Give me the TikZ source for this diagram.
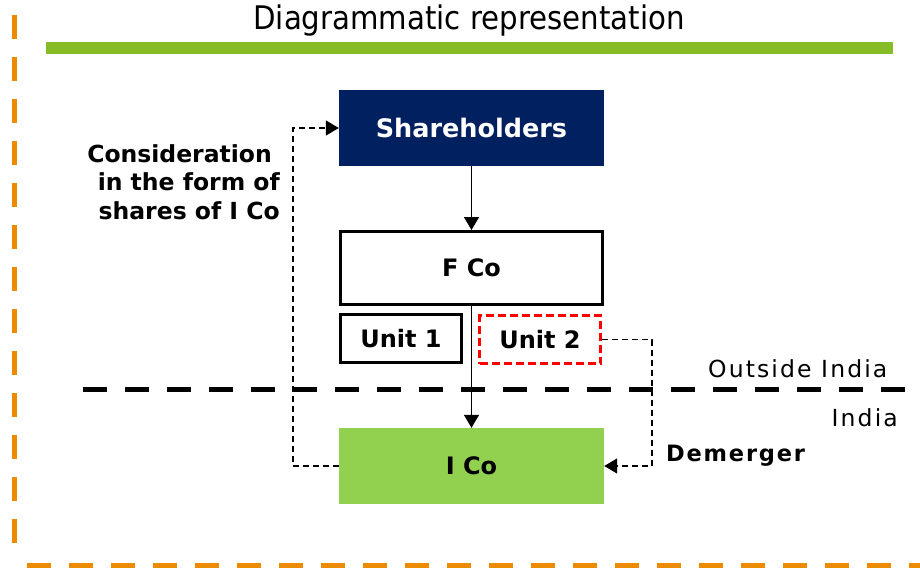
\documentclass[tikz,border=0pt]{standalone}
\usepackage{fontspec}
\setmainfont{DejaVu Sans}
\newfontfamily\titlefont{DejaVu Sans Condensed}
\newfontfamily\spacedfont[LetterSpace=9]{DejaVu Sans}
\newfontfamily\spacedbold[LetterSpace=8]{DejaVu Sans Bold}
\usetikzlibrary{arrows.meta}
\definecolor{navy}{HTML}{002060}
\definecolor{lgreen}{HTML}{92D050}
\definecolor{barg}{HTML}{86BC25}
\definecolor{orng}{HTML}{ED8B00}
\begin{document}
\begin{tikzpicture}[x=1pt,y=-1pt,
  box/.style={minimum width=265pt,minimum height=76pt,inner sep=0pt,
    font=\bfseries\fontsize{24}{28}\selectfont},
  unitbox/.style={minimum width=121pt,minimum height=48pt,inner sep=0pt,
    font=\bfseries\fontsize{24}{28}\selectfont},
  solidarrow/.style={line width=1.6pt,-{Triangle[length=13pt,width=15pt]}},
  dashline/.style={line width=1.5pt,dash pattern=on 6pt off 4pt},
  dasharrow/.style={dashline,-{Triangle[length=13pt,width=15pt]}},
  lbl/.style={inner sep=0pt}
]
\useasboundingbox (0,0) rectangle (920,567);

% title and bar
\node[lbl,anchor=base,font=\titlefont\fontsize{32.5}{36}\selectfont] (title) at (469,30) {Diagrammatic representation};
\fill[barg] (46,42) rectangle (893,54);

% orange dashed border
\draw[orng,line width=5pt,dash pattern=on 24pt off 18pt] (14,15) -- (14,545);
\draw[orng,line width=5pt,dash pattern=on 24pt off 18pt] (27,565) -- (930,565);

% boxes
\node[box,fill=navy,text=white,font=\bfseries\fontsize{25.5}{30}\selectfont] (sh) at (471.5,128) {Shareholders};
\node[box,draw,line width=3pt,minimum width=262pt,minimum height=73pt,fill=white] (fco) at (471.5,268) {F Co};
\node[unitbox,draw,line width=3pt] (u1) at (401,338.5) {Unit 1};
\node[unitbox,draw=red,line width=2.5pt,dash pattern=on 8pt off 4pt] (u2) at (540,339.5) {Unit 2};
\node[box,fill=lgreen] (ico) at (471.5,466) {I Co};

% border line
\draw[line width=5pt,dash pattern=on 24pt off 18pt] (83,389) -- (906,389);

% connectors
\draw[solidarrow] (sh) -- (fco);
\draw[solidarrow] (fco) -- (ico);
\draw[dasharrow] (ico.west) -- ++(-46,0) |- (sh.west);
\draw[dasharrow] (u2.east) -- ++(50,0) |- (ico.east);

% labels
\node[lbl,anchor=base west,font=\spacedfont\fontsize{23.5}{28}\selectfont] (out) at (708,377) {Outside India};
\node[lbl,anchor=base east,font=\spacedfont\fontsize{23.5}{28}\selectfont] (ind) at (898,426) {India};
\node[lbl,anchor=base west,font=\spacedbold\fontsize{22.5}{27}\selectfont] (dem) at (666,461) {Demerger};
\node[lbl,anchor=north east,align=right,font=\bfseries\fontsize{23.5}{28.5}\selectfont] (cons) at (280,144)
  {Consideration\hspace*{8pt}\\in the form of\\shares of I Co};
\end{tikzpicture}
\end{document}
